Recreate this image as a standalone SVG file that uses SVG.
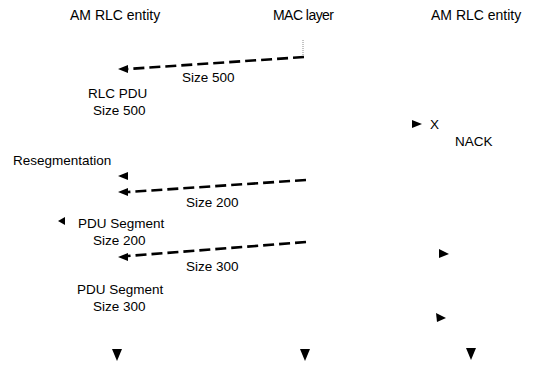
<svg xmlns="http://www.w3.org/2000/svg" width="535" height="369" viewBox="0 0 535 369">
<style>
text{font-family:"Liberation Sans",Arial,sans-serif;font-size:13.5px;fill:#000}
.h{font-size:14px}
.msg{fill:none;stroke:#000;stroke-width:2.6;stroke-dasharray:11 5}
.tri{fill:#000}
</style>
<defs>
<marker id="ah" viewBox="0 0 10 8" refX="1" refY="4" markerWidth="10" markerHeight="8" markerUnits="userSpaceOnUse" orient="auto">
<path d="M10,0 L0,4 L10,8 Z" fill="#000"/>
</marker>
</defs>
<rect width="535" height="369" fill="#fff"/>
<g id="entity-left"><text class="h" x="70" y="20">AM RLC entity</text></g>
<g id="mac-layer"><text class="h" x="273" y="20" textLength="61">MAC layer</text>
<line x1="303" y1="40" x2="303" y2="58" stroke="#888" stroke-width="1" stroke-dasharray="1 1"/></g>
<g id="entity-right"><text class="h" x="431" y="20">AM RLC entity</text></g>
<g id="connectors">
<path class="msg" d="M304,57 L128,69"/>
<path class="tri" d="M118,69 L128,65 L128,73 Z"/>
<path class="msg" d="M306,180 L128,192"/>
<path class="tri" d="M118,192 L128,188 L128,196 Z"/>
<path class="msg" d="M306,242 L128,256"/>
<path class="tri" d="M118,257 L128,253 L128,261 Z"/>
</g>
<g id="labels">
<text x="182" y="82">Size 500</text>
<text x="88" y="98">RLC PDU</text>
<text x="93" y="115">Size 500</text>
<path class="tri" d="M422,124 L412,120 L412,128 Z"/>
<text x="430" y="129">X</text>
<text x="455" y="146">NACK</text>
<text x="13" y="165">Resegmentation</text>
<path class="tri" d="M118,176 L128,172 L128,180 Z"/>
<text x="186" y="207">Size 200</text>
<path class="tri" d="M58,221 L65,217 L65,225 Z"/>
<text x="78" y="228">PDU Segment</text>
<text x="93" y="245">Size 200</text>
<text x="186" y="271">Size 300</text>
<path class="tri" d="M449,254 L439,249 L439,258 Z"/>
<text x="77" y="294">PDU Segment</text>
<text x="93" y="311">Size 300</text>
<path class="tri" d="M446,318 L436,313 L437,322 Z"/>
<path class="tri" d="M117,361 L112,349 L122,349 Z"/>
<path class="tri" d="M305,361 L300,349 L310,349 Z"/>
<path class="tri" d="M471,360 L466,348 L476,348 Z"/>
</g>
</svg>
